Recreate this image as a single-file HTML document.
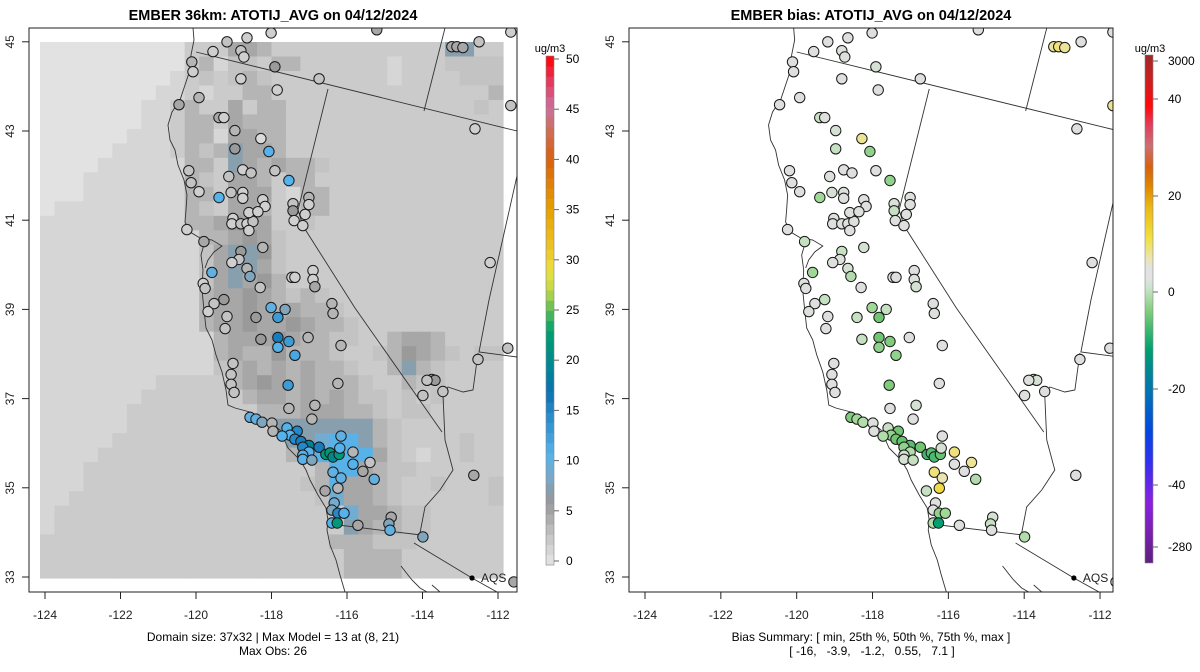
<!DOCTYPE html>
<html><head><meta charset="utf-8">
<style>
html,body{margin:0;padding:0;background:#fff;}
svg{display:block;font-family:"Liberation Sans",Arial,sans-serif;}
</style></head>
<body>
<svg id="svg" width="1200" height="672" viewBox="0 0 1200 672" xmlns="http://www.w3.org/2000/svg">
<defs>
<clipPath id="clipL"><rect x="29" y="28" width="488" height="564"/></clipPath>
<clipPath id="clipR"><rect x="629" y="28" width="484" height="564"/></clipPath>
<linearGradient id="biasGrad" x1="0" y1="1" x2="0" y2="0">
<stop offset="0" stop-color="#5e2080"/><stop offset="0.06" stop-color="#7a20b0"/><stop offset="0.12" stop-color="#8a20e0"/>
<stop offset="0.2" stop-color="#3030f0"/><stop offset="0.26" stop-color="#0048e0"/><stop offset="0.33" stop-color="#0070b8"/>
<stop offset="0.38" stop-color="#008890"/><stop offset="0.42" stop-color="#00a070"/><stop offset="0.46" stop-color="#40b870"/>
<stop offset="0.5" stop-color="#88d080"/><stop offset="0.54" stop-color="#c8e4c8"/><stop offset="0.56" stop-color="#e2e2e2"/>
<stop offset="0.58" stop-color="#e2e2e2"/><stop offset="0.6" stop-color="#ece4b0"/><stop offset="0.64" stop-color="#f0e040"/>
<stop offset="0.7" stop-color="#ecb818"/><stop offset="0.74" stop-color="#e08800"/><stop offset="0.78" stop-color="#d86010"/>
<stop offset="0.82" stop-color="#cc7070"/><stop offset="0.86" stop-color="#e04060"/><stop offset="0.9" stop-color="#ff0808"/>
<stop offset="0.95" stop-color="#cc2020"/><stop offset="1" stop-color="#a02828"/>
</linearGradient>
</defs>

<text x="273" y="20" text-anchor="middle" font-size="14.5" font-weight="bold">EMBER 36km: ATOTIJ_AVG on 04/12/2024</text>
<text x="871" y="20" text-anchor="middle" font-size="14.5" font-weight="bold">EMBER bias: ATOTIJ_AVG on 04/12/2024</text>

<g id="gridL" clip-path="url(#clipL)"></g>
<g id="geoL" clip-path="url(#clipL)"></g>
<g id="geoR" clip-path="url(#clipR)"></g>
<g id="ptsL" clip-path="url(#clipL)"></g>
<g id="ptsR" clip-path="url(#clipR)"></g>

<rect x="29" y="28" width="488" height="564" fill="none" stroke="#222" stroke-width="1"/>
<rect x="629" y="28" width="484" height="564" fill="none" stroke="#222" stroke-width="1"/>
<g id="axes" font-size="12" fill="#222"></g>

<g id="cbarL"></g>
<g id="cbarR">
<rect x="1145" y="55" width="8" height="508" fill="url(#biasGrad)" stroke="#888" stroke-width="0.6"/>
</g>

<text x="273" y="641" text-anchor="middle" font-size="12">Domain size: 37x32 | Max Model = 13 at (8, 21)</text>
<text x="273" y="655" text-anchor="middle" font-size="12">Max Obs: 26</text>
<text x="871" y="641" text-anchor="middle" font-size="12">Bias Summary: [ min, 25th %, 50th %, 75th %, max ]</text>
<text x="872" y="655" text-anchor="middle" font-size="12" xml:space="preserve" style="white-space:pre">[ -16,   -3.9,   -1.2,   0.55,   7.1 ]</text>
</svg>

<script>
// ---------- data ----------
const gridRows = [
"aaaaaaaaaa"+"cccffecccccccccccchhcc",
"aaaaaaaaaa"+"cebddceeccccccbcccdddd",
"aaaaaaaaab"+"cdcdedccccccccbccccddd",
"aaaaaaaabb"+"cbcceeccccccccccccccce",
"aaaaaaabb"+"ceccfceecccccccccccccdc",
"aaaaaaabb"+"ceecfeeeccccccccccccccc",
"aaaaaabbb"+"ceebffeeccccccccccccccc",
"aaaaabbbb"+"cedehffeccccccccccccccc",
"aaaabbbbbb"+"eechfefeedcccccccccccc",
"aaabbbbbbb"+"edcffeceeccccccccccccc",
"aaabbbbbbb"+"eecfffcbeecccccccccccc",
"abbbbbbbbb"+"edcffecceecccccccccccc",
"bbbbbbbbbb"+"eefgffccdccccccccccccc",
"bbbbbbbbbbb"+"eefgfdccccccccccccccc",
"bbbbbbbbbbb"+"dfhhgdccccccccccccccc",
"bbbbbbbbbbb"+"dfhhfdccccccccccccccc",
"bbbbbbbbbbb"+"dfhfgeccccccccccccccc",
"bbbbbbbbbbb"+"effgfededcccccccccccc",
"bbbbbbbbbbb"+"effgfefeedccccccccccc",
"bbbbbbbbbbb"+"effgffgfeedcccccccccc",
"bbbbbbbbbbbb"+"efffgfeeddcceffecccc",
"bbbbbbbbbbbb"+"efeegeeedccdegfedcdd",
"bbbbbbbbbbbb"+"defefefeedccehedcccc",
"bbbbbbbbccccc"+"efgfefeeedcceddcccc",
"bbbbbbbcccccc"+"ceffefefeddcdcdcccc",
"bbbbbbccccccc"+"cceeefffeedcddccccc",
"bbbbbbcccccccccc"+"hhhhhhhedccccccc",
"bbbbbcccccccccccc"+"hhijjhedccccdcc",
"bbbbccccccccccccc"+"eejjjjfdcbccdcc",
"bbbcccccccccccccccc"+"ejjfeddcccccc",
"bbbccccccccccccccc"+"dejffedccdcccd",
"bbccccccccccccccccc"+"diffedccccccd",
"bcccccccccccccccccccc"+"iffeddccccc",
"bcccccccccccccccccccc"+"hfeeddccccc",
"cccccccccccccccccccc"+"eeedddcccccc",
"cccccccccccccccccccc"+"ceeeeccccccc",
"cccccccccccccccccccc"+"ceeeeccccccc"
];
const codeValues = {a:0.3,b:1.4,c:2.35,d:3,e:4,f:5,g:6,h:7.4,i:9,j:10.8};

const stLon = [-119.18,-118.65,-118.01,-119.55,-118.81,-118.73,-117.91,-116.74,-120.11,-120.08,-118.81,-117.85,-119.92,-120.45,-119.39,-119.26,-118.97,-118.28,-118.97,-118.07,-120.19,-119.13,-118.76,-118.54,-117.91,-117.54,-120.13,-119.92,-119.39,-119.07,-118.76,-118.76,-118.23,-118.17,-117.43,-117.43,-117.01,-117.01,-117.11,-117.40,-117.17,-119.02,-119.05,-118.81,-118.65,-118.49,-118.60,-118.36,-118.60,-120.24,-119.79,-118.81,-118.86,-119.05,-118.23,-118.65,-118.57,-119.58,-119.81,-119.76,-118.30,-117.46,-117.38,-116.90,-116.90,-116.85,-119.26,-119.52,-116.40,-115.21,-113.22,-113.09,-112.93,-112.50,-111.66,-112.61,-112.21,-111.66,-119.68,-119.18,-119.23,-118.41,-118.01,-117.64,-117.83,-116.37,-118.28,-117.83,-117.54,-117.83,-117.38,-117.03,-116.16,-119.02,-119.07,-119.07,-118.99,-117.56,-116.24,-117.54,-116.85,-116.93,-118.57,-118.41,-118.25,-117.99,-117.96,-117.59,-117.32,-117.51,-117.72,-117.38,-117.22,-117.01,-117.17,-116.74,-117.01,-117.17,-117.17,-116.93,-116.56,-116.45,-116.37,-116.21,-116.19,-116.16,-115.84,-115.84,-115.39,-115.58,-115.28,-116.37,-116.16,-116.24,-116.58,-116.34,-116.40,-116.24,-116.08,-116.40,-116.26,-115.71,-114.83,-114.89,-114.86,-113.99,-113.75,-113.67,-113.88,-113.99,-113.46,-112.53,-112.64,-111.74,-111.58];
const stLat = [45.00,45.09,45.20,44.78,44.80,44.66,44.44,44.17,44.55,44.33,44.17,43.92,43.75,43.59,43.30,43.30,43.01,42.83,42.60,42.54,42.11,41.98,42.13,42.06,42.11,41.89,41.84,41.64,41.51,41.62,41.62,41.49,41.46,41.31,41.37,41.21,41.51,41.35,41.13,40.99,40.88,41.04,40.92,40.92,40.92,40.97,41.17,41.19,40.77,40.79,40.52,40.30,40.12,40.05,40.39,39.92,39.74,39.83,39.58,39.47,39.49,39.72,39.72,39.87,39.67,39.51,39.22,39.13,39.13,45.27,44.89,44.89,44.87,45.00,43.57,43.05,40.05,45.22,38.95,38.84,38.57,38.82,39.04,39.00,38.82,38.91,38.33,38.37,38.28,38.15,37.97,38.37,38.19,37.79,37.54,37.32,37.14,37.30,37.34,36.78,36.85,36.54,36.58,36.54,36.47,36.45,36.27,36.34,36.27,36.18,36.16,36.09,36.04,35.95,35.91,35.91,35.80,35.73,35.64,35.62,35.75,35.78,35.69,35.75,35.89,36.16,35.80,35.53,35.57,35.37,35.19,35.35,35.22,34.99,34.93,34.66,34.50,34.43,34.43,34.21,34.21,34.16,34.34,34.19,34.05,33.90,37.43,37.41,37.41,37.07,37.16,37.88,35.28,38.13,32.89];
const stObs = [3,2,2,2,3,2,6,3,4,2,2,2,4,5,5,2,4,1,6,11,3,3,2,3,3,11,3,2,11,3,2,2,2,2,3,6,4,2,2,2,2,2,2,3,2,3,2,2,2,2,5,6,3,2,4,4,8,10,2,3,3,2,2,2,2,5,6,3,4,5,5,5,5,3,3,2,2,2,2,3,3,6,10,8,13,4,6,16,13,11,12,4,4,3,3,3,3,13,4,4,4,4,10,10,8,4,4,11,15,11,11,15,16,19,15,16,11,11,11,8,22,22,20,22,11,10,4,11,3,5,10,10,10,4,5,9,8,15,11,11,22,5,5,8,10,8,6,6,3,3,3,3,5,3,5];
const stBias = [-1,-1,-1,-1,-1,-1,-2,-1,-1,-1,-1,-1,-1,-1,-3,-1,-2,3,-3,-6,-1,-1,-1,-1,-1,-6,-1,-1,-5,-2,-1,-1,-1,-1,-1,-3,-1,-1,-1,-1,-1,-1,-1,-1,-1,-1,-1,-1,-1,-1,-3,-3,-1,-1,-2,-2,-4,-5,-1,-1,-1,-1,-1,-1,-1,-2,-3,-1,-1,-1,3,4,3,-1,3,-1,-1,-1,-1,-1,-1,-3,-5,-3,-8,-1,-3,-8,-7,-6,-6,-1,-1,-1,-1,-1,-1,-7,-1,-1,-2,-1,-7,-5,-4,-1,-1,-3,-8,-6,-4,-8,-9,-10,-6,-8,-4,-2,-2,-3,-12,-10,-11,-9,-2,-1,4,-1,3,-1,-4,4,2,7,-3,-1,-1,-6,-5,-4,-16,-1,-2,-3,-1,-4,-3,-2,-1,-1,-1,-1,-1,-1,-1];

const lonTicks = [-124,-122,-120,-118,-116,-114,-112];
const latTicks = [33,35,37,39,41,43,45];
const obsTicks = [0,5,10,15,20,25,30,35,40,45,50];
const biasTickLabels = ["3000","40","20","0","-20","-40","-280"];

// ---------- scales ----------
const XL = lon => 45 + (lon + 124) * 37.75;
const XR = lon => 645 + (lon + 124) * 37.92;
const Y  = lat => 577 - (lat - 33) * 44.6;
const obsStops = [[0,"#e6e6e6"],[1,"#dadada"],[2,"#cfcfcf"],[3,"#c3c3c3"],[4,"#b5b5b5"],[5,"#a7a7a7"],[6,"#9a9a9a"],[7,"#8e9aa4"],[8,"#80a6be"],[9,"#72acd0"],[10,"#62b0e0"],[11,"#56b2ea"],[12,"#48a6e0"],[13,"#3c9cd8"],[15,"#2688c8"],[17,"#0c70b0"],[19,"#00829a"],[21,"#009080"],[23,"#00a070"],[25,"#58bc5a"],[27,"#c0d848"],[29,"#ece040"],[31,"#eec428"],[35,"#e6a000"],[40,"#d86010"],[43,"#cc7060"],[45,"#cc70a0"],[48,"#e83050"],[50,"#ff0000"]];
const biasStops = [[-280,"#5e2080"],[-40,"#8a20e0"],[-30,"#3030f0"],[-25,"#0050d8"],[-20,"#008090"],[-16,"#00a070"],[-12,"#40b470"],[-8,"#70c670"],[-5,"#a0d898"],[-2.5,"#cfe3cc"],[-1.2,"#dee0dd"],[0.5,"#e2e2e2"],[2,"#ece4b0"],[5,"#f0e060"],[8,"#f0d838"],[12,"#ecb818"],[20,"#e08000"],[30,"#cc7070"],[40,"#ff0808"],[3000,"#a02828"]];
function hex(c){return [parseInt(c.slice(1,3),16),parseInt(c.slice(3,5),16),parseInt(c.slice(5,7),16)];}
function ramp(stops,v){
  if(v<=stops[0][0]) return stops[0][1];
  for(let k=1;k<stops.length;k++){
    if(v<=stops[k][0]){
      const t=(v-stops[k-1][0])/(stops[k][0]-stops[k-1][0]);
      const a=hex(stops[k-1][1]),b=hex(stops[k][1]);
      return "rgb("+a.map((x,i)=>Math.round(x+(b[i]-x)*t)).join(",")+")";
    }
  }
  return stops[stops.length-1][1];
}
const NS="http://www.w3.org/2000/svg";
function mk(tag,attrs,parent){const e=document.createElementNS(NS,tag);for(const k in attrs)e.setAttribute(k,attrs[k]);parent.appendChild(e);return e;}

// ---------- grid ----------
const gL=document.getElementById("gridL");
const cw=463/32, ch=536/37;
gridRows.forEach((row,j)=>{
  const r=(row+"cccccccccccccccccccccccccccccccc").slice(0,32);
  for(let i=0;i<32;i++){
    const c=mk("rect",{x:(40+i*cw).toFixed(2),y:(42+j*ch).toFixed(2),width:(cw+0.6).toFixed(2),height:(ch+0.6).toFixed(2),fill:ramp(obsStops,codeValues[r[i]])},gL);
    
    
  }
});

// ---------- geography ----------
const geoPaths = [
"M193,28 L194,40 L191,55 L190,70 L185,85 L180,100 L172,112 L168,125 L170,140 L175,150 L178,165 L184,180 L187,195 L186,210 L185,222 L190,232 L200,238 L205,241 L201,255 L203,270 L202,290 L204,310 L206,328 L212,340 L216,355 L222,372 L226,390 L228,405 L235,408 L250,412 L262,418 L270,422 L280,430 L288,448 L300,460 L306,470 L310,480 L318,495 L326,508 L328,520 L327,530 L330,545 L336,560 L340,575 L345,592",
"M200,238 L212,240 L222,246 L214,252 L208,260 L205,268",
"M196,52 L517,131",
"M445,28 L424,111",
"M328,89 L298,210 L303,226 L355,308 L442,432",
"M517,176 L489,300 L479,352 L517,357",
"M478,353 L473,390 L463,392 L448,387 L443,395 L445,440 L453,470 L440,490 L425,507 L420,533",
"M330,524 L421,535",
"M414,543 L472,578 L497,592",
"M401,566 L408,575 L412,580 L420,588 L427,592",
"M432,585 L440,592"
];
function geo(id,transform){
  const g=document.getElementById(id);
  const inner=mk("g",{transform:transform},g);
  geoPaths.forEach(d=>{
    const p=mk("path",{d:d,fill:"none",stroke:"#333","stroke-width":"0.9"},inner);
    
    
  });
  const dot=mk("circle",{cx:472,cy:578,r:2.6,fill:"#000"},inner);
  
  
  const t=mk("text",{x:481,y:582,"font-size":"12",fill:"#222"},inner);
  t.textContent="AQS";
  
  
}
geo("geoL","");
geo("geoR","matrix(1.0044,0,0,1,599.8,0)");

// ---------- points ----------
const pL=document.getElementById("ptsL"), pR=document.getElementById("ptsR");
for(let k=0;k<stLon.length;k++){
  const a=mk("circle",{cx:XL(stLon[k]).toFixed(1),cy:Y(stLat[k]).toFixed(1),r:5.2,fill:ramp(obsStops,stObs[k]),stroke:"#1a1a1a","stroke-width":"1"},pL);
  
  
  const b=mk("circle",{cx:XR(stLon[k]).toFixed(1),cy:Y(stLat[k]).toFixed(1),r:5.2,fill:ramp(biasStops,stBias[k]),stroke:"#1a1a1a","stroke-width":"1"},pR);
  
  
}

// ---------- axes ----------
const ax=document.getElementById("axes");
[[XL,29],[XR,629]].forEach(([X,left])=>{
  lonTicks.forEach(v=>{
    const x=X(v);
    const l=mk("line",{x1:x,y1:592,x2:x,y2:599,stroke:"#222"},ax);
    
    
    const t=mk("text",{x:x,y:619,"text-anchor":"middle"},ax);
    t.textContent=String(v);
    
    
  });
  latTicks.forEach(v=>{
    const y=Y(v);
    const l=mk("line",{x1:left-7,y1:y,x2:left,y2:y,stroke:"#222"},ax);
    
    
    const t=mk("text",{x:left-15,y:y,"text-anchor":"middle",transform:`rotate(-90 ${left-15} ${y})`},ax);
    t.textContent=String(v);
    
    
  });
});

// ---------- colorbars ----------
const cL=document.getElementById("cbarL");
for(let v=0;v<50;v++){
  const r=mk("rect",{x:546,y:(565-(v+1)*10.18).toFixed(2),width:8,height:10.6,fill:ramp(obsStops,v+0.5)},cL);
  
  
}
mk("rect",{x:546,y:56,width:8,height:509,fill:"none",stroke:"#888","stroke-width":"0.6"},cL);
const ul=mk("text",{x:550,y:52,"text-anchor":"middle","font-size":"11"},cL);
ul.textContent="ug/m3";


obsTicks.forEach(v=>{
  const y=561-v*10.04;
  mk("line",{x1:554,y1:y,x2:559,y2:y,stroke:"#666"},cL);
  const t=mk("text",{x:566,y:y+4,"font-size":"12"},cL);
  t.textContent=String(v);
  
  
});
const cR=document.getElementById("cbarR");
const ur=mk("text",{x:1150,y:52,"text-anchor":"middle","font-size":"11"},cR);
ur.textContent="ug/m3";


const biasTickY=[61,99,196,292,389,485,547];
biasTickLabels.forEach((s,i)=>{
  const y=biasTickY[i];
  mk("line",{x1:1153,y1:y,x2:1158,y2:y,stroke:"#666"},cR);
  const t=mk("text",{x:1168,y:y+4,"font-size":"12"},cR);
  t.textContent=s;
  
  
});
</script>
</body></html>
